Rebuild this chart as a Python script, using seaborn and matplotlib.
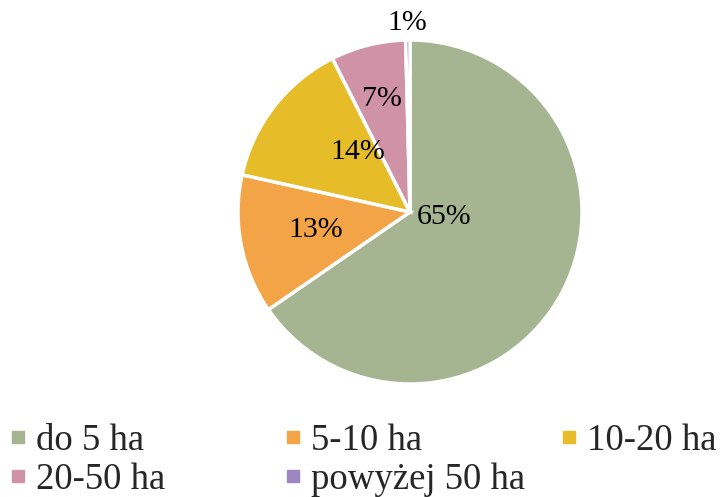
import matplotlib
matplotlib.use("Agg")
from matplotlib import pyplot as plt
from matplotlib.lines import Line2D
import seaborn as sns
import numpy as np

# data
categories = ["do 5 ha", "5-10 ha", "10-20 ha", "20-50 ha", "powyżej 50 ha"]
shares = [65, 13, 14, 7, 0.4]
colors = ["#A5B592", "#F3A447", "#E7BC29", "#D092A7", "#9C85C0"]

# label placement (radius fraction, angle shift in degrees)
label_dist = [0.2, 0.56, 0.46, 0.68, 1.1]
label_shift = [20, 0, -11, 0, 0]

sns.set_theme(style="white")
plt.rcParams["font.family"] = ["Liberation Serif", "DejaVu Serif"]

fig = plt.figure(figsize=(7.2, 4.97), dpi=100)
ax = fig.add_axes([238 / 720, 113 / 497, 344 / 720, 344 / 497])

wedges, _ = ax.pie(shares, colors=colors, startangle=90, counterclock=False,
                   wedgeprops=dict(edgecolor="white", linewidth=2.5))
ax.set_xlim(-1, 1)
ax.set_ylim(-1, 1)
ax.set_aspect("equal")

total = sum(shares)
for w, val, d, s in zip(wedges, shares, label_dist, label_shift):
    ang = np.deg2rad((w.theta1 + w.theta2) / 2 + s)
    pct = max(1, round(val / total * 100))
    ax.text(d * np.cos(ang), d * np.sin(ang), f"{pct}%", ha="center", va="center",
            fontsize=21.5, color="black", clip_on=False)

# legend: three columns placed separately (row-wise order)
handles = [Line2D([], [], marker="s", linestyle="", markersize=9,
                  markerfacecolor=c, markeredgecolor=c) for c in colors]
columns = [[0, 3], [1, 4], [2]]
col_x = [10.5, 285.5, 561.5]
for idx, x0 in zip(columns, col_x):
    leg = fig.legend([handles[i] for i in idx], [categories[i] for i in idx],
                     loc="upper left", bbox_to_anchor=(x0 / 720, 1 - 423 / 497),
                     frameon=False, fontsize=26.5, handlelength=0.4,
                     handletextpad=0.3, labelspacing=0.14,
                     borderpad=0, borderaxespad=0)

fig.savefig("out.png", dpi=100)
